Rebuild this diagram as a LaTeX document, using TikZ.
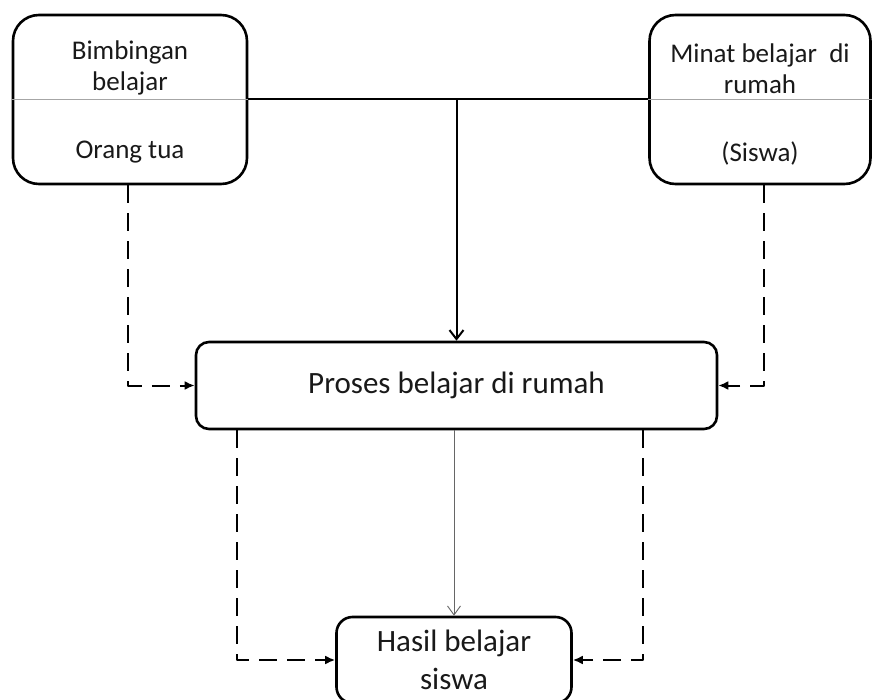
\documentclass[tikz,border=0pt]{standalone}
\usepackage{fontspec}
\setmainfont{Carlito}
\usetikzlibrary{arrows.meta, positioning}

\begin{document}
\begin{tikzpicture}[x = 1pt, y = -1pt, line join = round,
	box/.style = {draw, line width = 2.6pt, rounded corners = 14pt, align = center, inner sep = 0pt},
	topbox/.style = {box, rounded corners = 26pt, minimum width = 234pt, minimum height = 169pt},
	toptext/.style = {align = center, font = \fontsize{27}{31}\selectfont, text = black!90},
	midtext/.style = {font = \fontsize{31}{38}\selectfont, text = black!90},
	link/.style = {line width = 2pt},
	dashlink/.style = {line width = 2pt, dash pattern = on 18pt off 10pt, -{Latex[length = 10pt, width = 9pt]}},
	sepline/.style = {line width = 1pt, gray!70}]

\useasboundingbox (0,0) rectangle (872,700);

\node[topbox]										(bimb)		at (130,99.5)	{};
\node[topbox, minimum width = 221pt]				(minat)		at (760,99.5)	{};
\node[toptext]										(bimbtxt)	at (130,68)		{Bimbingan\\belajar};
\node[toptext]										(ortu)		at (130,152)	{Orang tua};
\node[toptext]										(minattxt)	at (760,68.5)	{Minat belajar \ di\\rumah};
\node[toptext]										(siswa)		at (760,154)	{(Siswa)};

\node[box, midtext, minimum width = 521pt, minimum height = 87pt, rounded corners = 13pt]	(proses)	at (456.5,385.5)	{Proses belajar di rumah};
\node[box, midtext, minimum width = 235pt, minimum height = 86pt, rounded corners = 16pt, align = center]	(hasil)	at (454,660)	{Hasil belajar\\siswa};

\coordinate	(bl)	at ([xshift = -2pt]bimb.south);
\coordinate	(mr)	at ([xshift = 4pt]minat.south);
\coordinate	(pl)	at ([xshift = 42pt]proses.south west);
\coordinate	(pr)	at ([xshift = -75pt]proses.south east);

\draw[sepline]		(bimb.west)		--	(minat.east);
\draw[link]			(bimb.east)		--	(minat.west);
\draw[link, -{Straight Barb[length = 9pt, width = 14pt, line width = 2pt]}]	(bimb.east -| proses.north)	--	(proses.north);

\draw[dashlink]		(bl)	|-	(proses.west);
\draw[dashlink]		(mr)	|-	(proses.east);
\draw[dashlink]		(pl)	|-	(hasil.west);
\draw[dashlink]		(pr)	|-	(hasil.east);

\draw[line width = 0.9pt, gray!80!black, -{Straight Barb[length = 9pt, width = 13pt, line width = 0.9pt]}]	(hasil.north |- proses.south)	--	(hasil.north);

\end{tikzpicture}
\end{document}
